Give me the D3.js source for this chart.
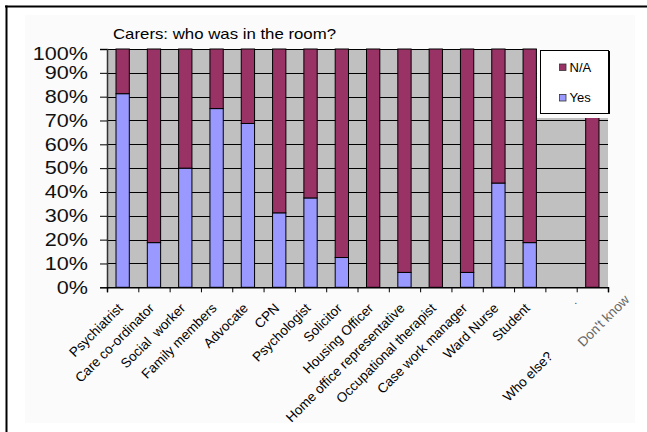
<!DOCTYPE html>
<html><head><meta charset="utf-8">
<script src="https://cdn.jsdelivr.net/npm/d3@7"></script>
<style>
body{margin:0;background:#fff}
svg{display:block}
text{font-family:Arial,"Liberation Sans",sans-serif;white-space:pre}
</style>
</head><body><svg id="c" width="647" height="432"></svg>
<script>
// ---- data ----
const title = "Carers: who was in the room?";
const categories = ["Psychiatrist","Care co-ordinator","Social  worker","Family members","Advocate","CPN","Psychologist","Solicitor","Housing Officer","Home office representative","Occupational therapist","Case work manager","Ward Nurse","Student","Who else?","Don't know"];
const yesValues = [81.25,18.75,50,75,68.75,31.25,37.5,12.5,0,6.25,0,6.25,43.75,18.75,0,0];
const naValues  = [18.75,81.25,50,25,31.25,68.75,62.5,87.5,100,93.75,100,93.75,56.25,81.25,0,100];
const yTicks = [0,10,20,30,40,50,60,70,80,90,100];
const seriesNames = ["N/A","Yes"];
const seriesColors = ["#993366","#9999FF"];

// ---- layout ----
const svg = d3.select("#c");
const L = 107, R = 608, T = 49, B = 287.3;

const x = d3.scaleBand().domain(categories).range([L, R]).paddingInner(0.575).paddingOuter(0.2875);
const xb = d3.scaleLinear().domain([0, categories.length]).range([L, R]);
const y = d3.scaleLinear().domain([0, 100]).range([B, T]);

// faint chart area
svg.append("rect").attr("x",25).attr("y",15).attr("width",610).attr("height",408).attr("fill","#fbfbfb");

// frame
svg.append("line").attr("x1",5).attr("x2",647).attr("y1",6.5).attr("y2",6.5).attr("stroke","#000").attr("stroke-width",2);
svg.append("line").attr("x1",6.5).attr("x2",6.5).attr("y1",5.5).attr("y2",432).attr("stroke","#000").attr("stroke-width",2);

// title
svg.append("g").attr("transform","translate(113,38.5) scale(1.2,1)")
  .append("text").attr("font-size",14).attr("fill","#000").text(title);

// plot background
svg.append("rect").attr("x",L).attr("y",T).attr("width",R-L).attr("height",B-T).attr("fill","#C0C0C0");

// gridlines
svg.append("g").selectAll("line").data(yTicks.filter(d=>d>0)).join("line")
  .attr("x1",L).attr("x2",R).attr("y1",d=>Math.round(y(d))+0.5).attr("y2",d=>Math.round(y(d))+0.5)
  .attr("stroke","#000").attr("stroke-width",1);

// stacked bars
const rows = categories.map((c,i)=>({cat:c, Yes:yesValues[i], "N/A":naValues[i]}));
const stack = d3.stack().keys(["Yes","N/A"])(rows);
svg.append("g").selectAll("g").data(stack).join("g")
  .attr("fill", s => seriesColors[seriesNames.indexOf(s.key)])
  .selectAll("rect").data(s => s.filter(d => d[1]-d[0] > 0)).join("rect")
  .attr("x", d => x(d.data.cat))
  .attr("width", x.bandwidth())
  .attr("y", d => y(d[1]))
  .attr("height", d => y(d[0]) - y(d[1]))
  .attr("stroke","#000").attr("stroke-width",1);

// legend mask + box
svg.append("rect").attr("x",537).attr("y",46).attr("width",76).attr("height",72).attr("fill","#fbfbfb");
svg.append("rect").attr("x",540.5).attr("y",50.5).attr("width",68).attr("height",63).attr("fill","#fff").attr("stroke","#000");
svg.append("line").attr("x1",609.5).attr("x2",609.5).attr("y1",51).attr("y2",114).attr("stroke","#000");
const lg = svg.append("g").selectAll("g").data(seriesNames).join("g")
  .attr("transform",(d,i)=>`translate(559.5,${64+i*30.5})`);
lg.append("rect").attr("width",6.5).attr("height",6.5).attr("fill",(d,i)=>seriesColors[i]).attr("stroke","#333").attr("stroke-width",0.8);
lg.append("text").attr("x",10).attr("y",7.5).attr("font-size",13).attr("fill","#000").text(d=>d);

// y axis
const yAxis = svg.append("g").attr("transform",`translate(${L},0)`)
  .call(d3.axisLeft(y).tickValues(yTicks).tickSize(7).tickFormat(d=>d+"%"));
yAxis.select(".domain").attr("stroke","#333").attr("stroke-width",1.5);
yAxis.selectAll(".tick line").attr("stroke","#000");
yAxis.selectAll(".tick text")
  .attr("x",-15.8).attr("font-size",18).attr("fill","#111")
  .attr("font-family","Arial, 'Liberation Sans', sans-serif")
  .attr("transform",d=> d===100 ? "translate(0,5) scale(1.2,1)" : "scale(1.2,1)");

// x axis (tick marks at category boundaries)
const xAxis = svg.append("g").attr("transform",`translate(0,${B})`)
  .call(d3.axisBottom(xb).tickValues(d3.range(categories.length+1)).tickSize(5).tickFormat(""));
xAxis.select(".domain").attr("stroke","#000").attr("stroke-width",1.5);
xAxis.selectAll(".tick line").attr("stroke","#000");

// x labels
const special = {"Who else?":{dx:-40,dy:28,fill:"#000"}, "Don't know":{dx:32,dy:20,fill:"#666"}};
svg.append("g").selectAll("g").data(categories).join("g")
  .attr("transform", d => `translate(${x(d)+x.bandwidth()/2+1},309) rotate(-45)`)
  .append("text")
  .attr("text-anchor","end")
  .attr("font-size",13.5)
  .attr("dx", d => special[d] ? special[d].dx : 0)
  .attr("dy", d => special[d] ? special[d].dy : 0)
  .attr("fill", d => special[d] ? special[d].fill : "#000")
  .text(d => d);
svg.append("text").attr("x",xb(categories.length-1)-1).attr("y",304).attr("text-anchor","middle")
  .attr("font-size",11).attr("fill","#444").text(".");
</script>
</body></html>
